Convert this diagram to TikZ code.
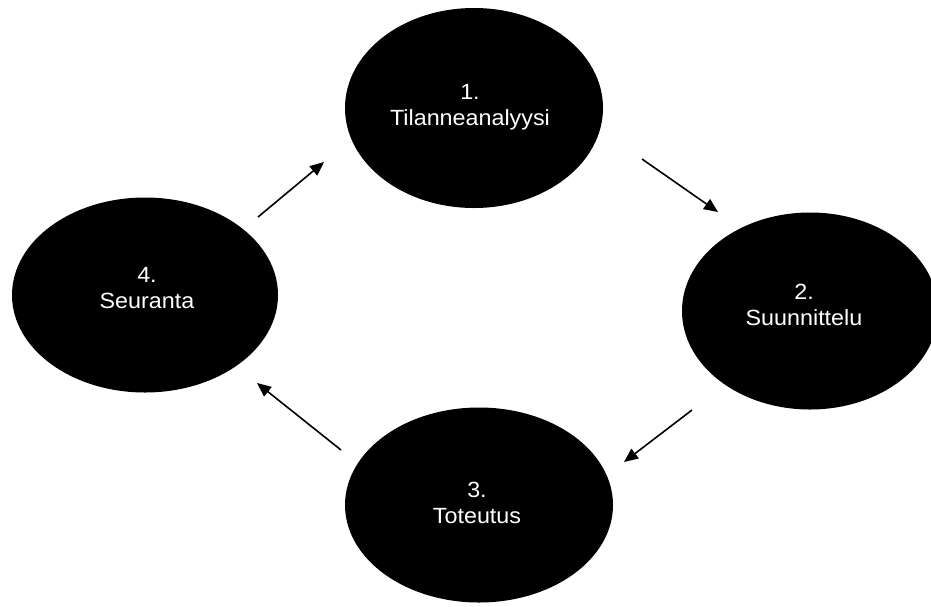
\documentclass[tikz,border=0pt]{standalone}
\usepackage{fontspec}
\setmainfont[FakeStretch=1.06]{Liberation Sans}
\usetikzlibrary{shapes.geometric,arrows.meta}
\begin{document}
\begin{tikzpicture}[x=1pt,y=-1pt,
  phase/.style={ellipse,fill=black,draw=none,inner sep=0pt},
  phasetext/.style={text=white,align=center,inner sep=0pt,font=\fontsize{22}{26}\selectfont},
  flow/.style={line width=1.6pt,-{Triangle[length=14pt,width=12pt]}}]
\useasboundingbox (0,0) rectangle (931,606);
\node[phase,minimum width=258pt,minimum height=200pt] (e1) at (474,108) {};
\node[phase,minimum width=256pt,minimum height=197pt] (e2) at (810,311) {};
\node[phase,minimum width=268pt,minimum height=195pt] (e3) at (479,505) {};
\node[phase,minimum width=266pt,minimum height=195pt] (e4) at (145,295) {};
\node[phasetext] (t1) at (470,107) {1.\\Tilanneanalyysi};
\node[phasetext] (t2) at (804,305) {2.\\Suunnittelu};
\node[phasetext] (t3) at (477,503) {3.\\Toteutus};
\node[phasetext] (t4) at (147,288) {4.\\Seuranta};
\coordinate (a1s) at (258,217); \coordinate (a1e) at (324,162);
\coordinate (a2s) at (642,159); \coordinate (a2e) at (718,212);
\coordinate (a3s) at (692,410); \coordinate (a3e) at (624,462);
\coordinate (a4s) at (341,450); \coordinate (a4e) at (257,383);
\draw[flow] (a1s) -- (a1e);
\draw[flow] (a2s) -- (a2e);
\draw[flow] (a3s) -- (a3e);
\draw[flow] (a4s) -- (a4e);
\end{tikzpicture}
\end{document}
